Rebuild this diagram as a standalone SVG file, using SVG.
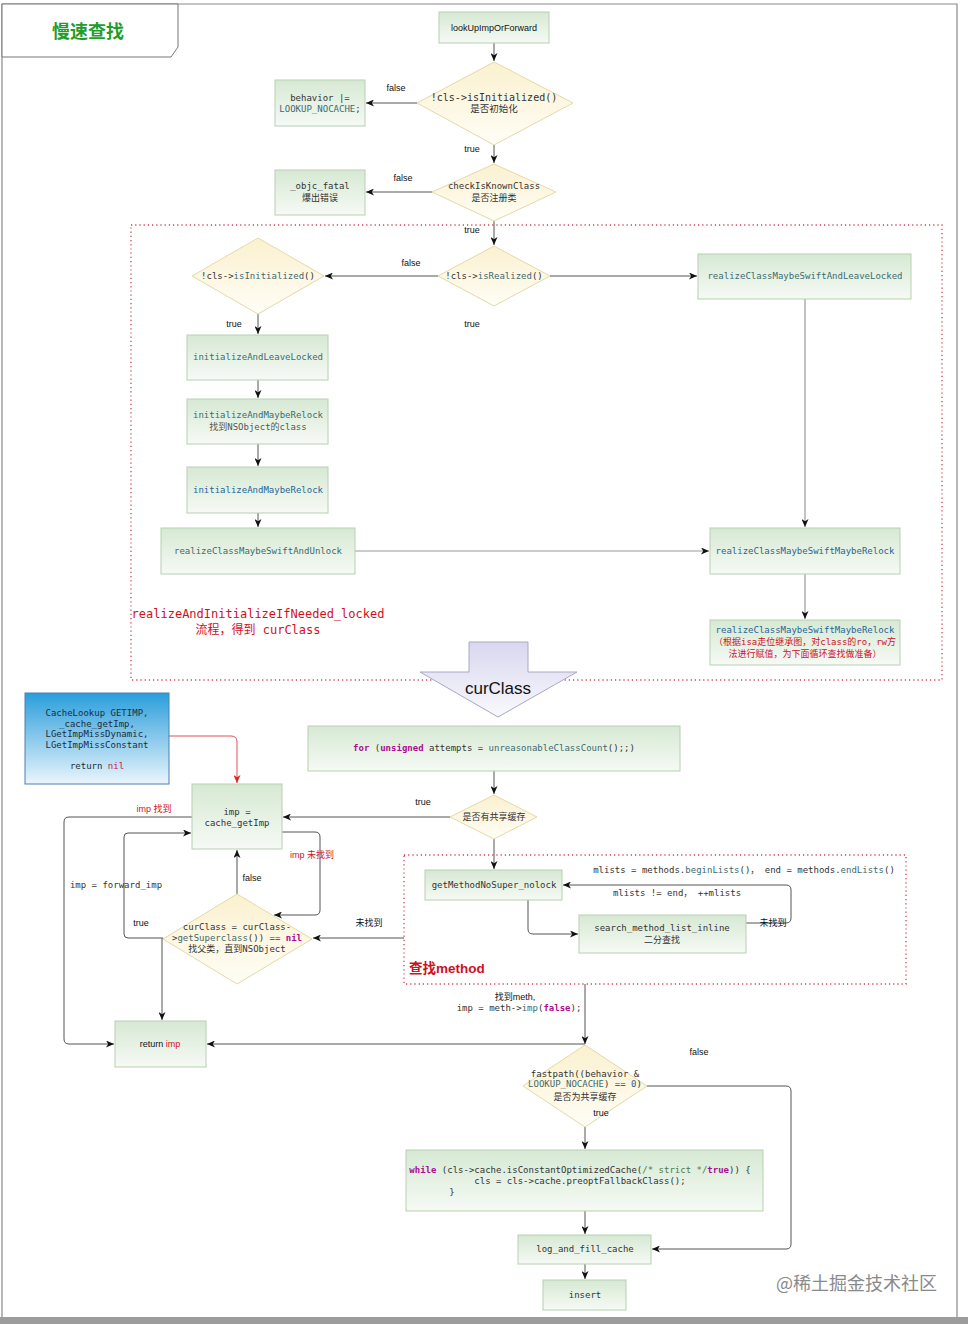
<svg xmlns="http://www.w3.org/2000/svg" width="968" height="1324" viewBox="0 0 968 1324">
<style>
.box{fill:url(#gb);stroke:#b7d0b1;stroke-width:1}
.dia{fill:url(#gd);stroke:#e3d9a8;stroke-width:1}
.m{font-family:"DejaVu Sans Mono","Liberation Mono","Noto Sans CJK SC",monospace;font-size:9px;fill:#333;text-anchor:middle}
.s{font-family:"Liberation Sans","Noto Sans CJK SC",sans-serif;font-size:9px;fill:#111;text-anchor:middle}
.teal{fill:#3c6b70}
.blue{fill:#2a6496}
.kw{fill:#aa0d91;font-weight:bold}
.red{fill:#d0101e}
.ln{fill:none;stroke:#555;stroke-width:1;marker-end:url(#a)}
.lg{fill:none;stroke:#999;stroke-width:1.2;marker-end:url(#a)}
.dash{fill:none;stroke:#d04050;stroke-width:1.3;stroke-dasharray:1.2 3}
</style>
<defs>
<linearGradient id="gb" x1="0" y1="0" x2="0" y2="1"><stop offset="0" stop-color="#d6e9d3"/><stop offset="1" stop-color="#f6faf5"/></linearGradient>
<linearGradient id="gd" x1="0" y1="0" x2="0" y2="1"><stop offset="0" stop-color="#fbf1cf"/><stop offset="1" stop-color="#fffdf6"/></linearGradient>
<linearGradient id="gc" x1="0" y1="0" x2="0" y2="1"><stop offset="0" stop-color="#2a9edb"/><stop offset="1" stop-color="#eaf5fc"/></linearGradient>
<linearGradient id="gv" x1="0" y1="0" x2="0" y2="1"><stop offset="0" stop-color="#d9d7ee"/><stop offset="1" stop-color="#f9f9fd"/></linearGradient>
<marker id="a" viewBox="0 0 8 7" markerWidth="8" markerHeight="7" refX="8" refY="3.5" orient="auto" markerUnits="userSpaceOnUse"><path d="M0,0 L8,3.5 L0,7 L2.2,3.5 z" fill="#111"/></marker>
<marker id="ar" viewBox="0 0 8 7" markerWidth="8" markerHeight="7" refX="8" refY="3.5" orient="auto" markerUnits="userSpaceOnUse"><path d="M0,0 L8,3.5 L0,7 L2.2,3.5 z" fill="#e02020"/></marker>
</defs>
<rect x="0" y="0" width="968" height="1324" fill="#fff"/>
<path d="M2,1317 V4 H957 V1317" fill="none" stroke="#8a8a8a" stroke-width="1.2"/>
<rect x="0" y="1317" width="968" height="7" fill="#9c9c9c"/>
<g id="title">
<polygon points="2,4 178,4 178,47 171,57 2,57" fill="#fff" stroke="#777" stroke-width="1"/>
<text x="88" y="38" font-family="'Noto Sans CJK SC',sans-serif" font-size="18" font-weight="bold" fill="#1f9d2a" text-anchor="middle">慢速查找</text>
</g>
<rect class="dash" x="131" y="225" width="811" height="455"/>
<rect class="dash" x="404" y="855" width="502" height="129"/>
<g id="connectors">
<path class="ln" d="M494,43 V61"/>
<path class="ln" d="M417,103 H366"/>
<path class="ln" d="M494,145 V163"/>
<path class="ln" d="M432,192 H366"/>
<path class="ln" d="M494,221 V245"/>
<path class="ln" d="M438,276 H325"/>
<path class="ln" d="M550,276 H697"/>
<path class="ln" d="M258,314 V334"/>
<path class="ln" d="M258,380 V398"/>
<path class="ln" d="M258,444 V466"/>
<path class="ln" d="M258,513 V527"/>
<path class="lg" d="M355,551 H709"/>
<path class="lg" d="M805,299 V527"/>
<path class="lg" d="M805,574 V619"/>
<path d="M169,736 H231 Q237,736 237,742 V783" fill="none" stroke="#e05050" stroke-width="1" marker-end="url(#ar)"/>
<path class="ln" d="M494,771 V794"/>
<path class="ln" d="M450,817 H283"/>
<path class="ln" d="M494,839 V869"/>
<path class="ln" d="M404,938 H313"/>
<path class="ln" d="M237,894 V850"/>
<path class="ln" d="M282,832 H315 Q320,832 320,837 V910 Q320,915 315,915 H274"/>
<path class="ln" d="M163,938 H128 Q124,938 124,934 V837 Q124,833 128,833 H191"/>
<path class="ln" d="M162,938 V1020"/>
<path class="ln" d="M192,817 H69 Q64,817 64,822 V1039 Q64,1044 69,1044 H114"/>
<path class="ln" d="M585,984 V1044"/>
<path class="ln" d="M585,1044 H207"/>
<path class="ln" d="M647,1086 H786 Q791,1086 791,1091 V1244 Q791,1249 786,1249 H652"/>
<path class="ln" d="M585,1127 V1149"/>
<path class="ln" d="M585,1211 V1234"/>
<path class="ln" d="M585,1264 V1279"/>
<path class="ln" d="M528,900 V929 Q528,934 533,934 H578"/>
<path class="ln" d="M746,923 H786 Q791,923 791,918 V890 Q791,885 786,885 H563"/>
</g>
<g id="labels">
<text class="s" x="396" y="91">false</text>
<text class="s" x="472" y="152">true</text>
<text class="s" x="403" y="181">false</text>
<text class="s" x="472" y="233">true</text>
<text class="s" x="411" y="266">false</text>
<text class="s" x="472" y="327">true</text>
<text class="s" x="234" y="327">true</text>
<text class="s" x="423" y="805">true</text>
<text class="s" x="369" y="926">未找到</text>
<text class="s" x="252" y="881">false</text>
<text class="s red" x="312" y="858">imp 未找到</text>
<text class="s red" x="154" y="812">imp 找到</text>
<text class="m" x="116" y="888">imp = forward_imp</text>
<text class="s" x="141" y="926">true</text>
<text class="s" x="515" y="1000">找到meth,</text>
<text class="m" x="519" y="1011">imp = meth-&gt;<tspan class="teal">imp</tspan>(<tspan class="kw">false</tspan>);</text>
<text class="s" x="699" y="1055">false</text>
<text class="s" x="773" y="926">未找到</text>
<text class="m" x="744" y="873">mlists = methods.<tspan class="teal">beginLists</tspan>()， end = methods.<tspan class="teal">endLists</tspan>()</text>
<text class="m" x="677" y="896">mlists != end， ++mlists</text>
<text class="m red" x="258" y="618" style="font-size:12px">realizeAndInitializeIfNeeded_locked</text>
<text class="m red" x="258" y="634" style="font-size:12px">流程，得到 curClass</text>
<text x="409" y="973" font-family="'Liberation Sans','Noto Sans CJK SC',sans-serif" font-size="13.5" font-weight="bold" fill="#d0101e">查找method</text>
<text x="937" y="1290" font-family="'Noto Sans CJK SC',sans-serif" font-size="18" fill="#8a8a8a" text-anchor="end">@稀土掘金技术社区</text>
</g>
<g id="lookUpImpOrForward"><rect class="box" x="439" y="12" width="110" height="31"/><text class="s" x="494" y="31">lookUpImpOrForward</text></g>
<g id="isInitialized1"><polygon class="dia" points="494,62 573,103 494,145 417,103"/><text class="m" x="494" y="101" style="font-size:10px">!cls-&gt;isInitialized()</text><text class="m" x="494" y="112" style="font-size:9.5px">是否初始化</text></g>
<g id="behavior"><rect class="box" x="275" y="80" width="90" height="46"/><text class="m" x="320" y="101">behavior |=</text><text class="m" x="320" y="112"><tspan class="teal">LOOKUP_NOCACHE</tspan>;</text></g>
<g id="checkIsKnownClass"><polygon class="dia" points="494,164 556,192 494,221 432,192"/><text class="m" x="494" y="189">checkIsKnownClass</text><text class="m" x="494" y="201">是否注册类</text></g>
<g id="objc_fatal"><rect class="box" x="275" y="170" width="90" height="45"/><text class="m" x="320" y="189">_objc_fatal</text><text class="m" x="320" y="201">爆出错误</text></g>
<g id="isRealized"><polygon class="dia" points="494,246 550,276 494,306 438,276"/><text class="m" x="494" y="279">!cls-&gt;<tspan class="teal">isRealized</tspan>()</text></g>
<g id="isInitialized2"><polygon class="dia" points="258,238 324,276 258,314 192,276"/><text class="m" x="258" y="279">!cls-&gt;<tspan class="teal">isInitialized</tspan>()</text></g>
<g id="initializeAndLeaveLocked"><rect class="box" x="187" y="335" width="141" height="45"/><text class="m teal" x="258" y="360">initializeAndLeaveLocked</text></g>
<g id="initializeAndMaybeRelock1"><rect class="box" x="187" y="399" width="141" height="45"/><text class="m teal" x="258" y="418">initializeAndMaybeRelock</text><text class="m" x="258" y="430" style="fill:#555">找到NSObject的class</text></g>
<g id="initializeAndMaybeRelock2"><rect class="box" x="187" y="467" width="141" height="46"/><text class="m blue" x="258" y="493">initializeAndMaybeRelock</text></g>
<g id="realizeClassMaybeSwiftAndUnlock"><rect class="box" x="161" y="528" width="194" height="46"/><text class="m teal" x="258" y="554">realizeClassMaybeSwiftAndUnlock</text></g>
<g id="realizeClassMaybeSwiftAndLeaveLocked"><rect class="box" x="698" y="254" width="213" height="45"/><text class="m teal" x="805" y="279">realizeClassMaybeSwiftAndLeaveLocked</text></g>
<g id="realizeClassMaybeSwiftMaybeRelock1"><rect class="box" x="710" y="528" width="190" height="46"/><text class="m blue" x="805" y="554">realizeClassMaybeSwiftMaybeRelock</text></g>
<g id="realizeClassMaybeSwiftMaybeRelock2"><rect class="box" x="710" y="620" width="190" height="45"/><text class="m blue" x="805" y="633">realizeClassMaybeSwiftMaybeRelock</text><text class="m red" x="805" y="645">（根据isa走位继承图，对class的ro，rw方</text><text class="m red" x="805" y="657">法进行赋值，为下面循环查找做准备）</text></g>
<g id="curClassArrow"><polygon points="469,642 528,642 528,672 577,672 498,717 420,672 469,672" fill="url(#gv)" stroke="#a9a8c4" stroke-width="1"/><text x="498" y="694" font-family="'Liberation Sans',sans-serif" font-size="17" fill="#111" text-anchor="middle">curClass</text></g>
<g id="cacheLookup"><rect x="25" y="693" width="144" height="91" fill="url(#gc)" stroke="#4a80b0" stroke-width="1"/><text class="m" x="97" y="716" style="fill:#1c2c3c">CacheLookup GETIMP,</text><text class="m" x="97" y="727" style="fill:#1c2c3c">_cache_getImp,</text><text class="m" x="97" y="737" style="fill:#1c2c3c">LGetImpMissDynamic,</text><text class="m" x="97" y="748" style="fill:#1c2c3c">LGetImpMissConstant</text><text class="m" x="97" y="769" style="fill:#1c2c3c">return <tspan style="fill:#c41a4a">nil</tspan></text></g>
<g id="cache_getImp"><rect class="box" x="192" y="784" width="90" height="65"/><text class="m" x="237" y="815">imp =</text><text class="m" x="237" y="826">cache_getImp</text></g>
<g id="forLoop"><rect class="box" x="308" y="726" width="372" height="45"/><text class="m" x="494" y="751"><tspan class="kw">for</tspan> (<tspan class="kw">unsigned</tspan> attempts = <tspan class="teal">unreasonableClassCount</tspan>();;)</text></g>
<g id="sharedCache"><polygon class="dia" points="494,795 537,817 494,839 450,817"/><text class="m" x="494" y="820">是否有共享缓存</text></g>
<g id="getMethodNoSuper_nolock"><rect class="box" x="425" y="870" width="137" height="30"/><text class="m" x="494" y="888">getMethodNoSuper_nolock</text></g>
<g id="search_method_list_inline"><rect class="box" x="579" y="915" width="167" height="38"/><text class="m" x="662" y="931">search_method_list_inline</text><text class="m" x="662" y="943">二分查找</text></g>
<g id="superclass"><polygon class="dia" points="237,894 312,939 237,984 163,939"/><text class="m" x="237" y="930">curClass = curClass-</text><text class="m" x="237" y="941">&gt;<tspan class="teal">getSuperclass</tspan>()) == <tspan class="kw">nil</tspan></text><text class="m" x="237" y="952">找父类，直到NSObject</text></g>
<g id="returnImp"><rect class="box" x="115" y="1021" width="91" height="46"/><text class="s" x="160" y="1047">return <tspan class="red">imp</tspan></text></g>
<g id="fastpath"><polygon class="dia" points="585,1045 647,1086 585,1127 523,1086"/><text class="m" x="585" y="1077">fastpath((behavior &amp;</text><text class="m" x="585" y="1087"><tspan class="teal">LOOKUP_NOCACHE</tspan>) == <tspan class="blue">0</tspan>)</text><text class="m" x="585" y="1100">是否为共享缓存</text><text class="s" x="601" y="1116">true</text></g>
<g id="whileLoop"><rect class="box" x="406" y="1150" width="357" height="61"/><text class="m" x="580" y="1173"><tspan class="kw">while</tspan> (cls-&gt;cache.isConstantOptimizedCache(<tspan style="fill:#4a7a4a">/* strict */</tspan><tspan class="kw">true</tspan>)) {</text><text class="m" x="580" y="1184">cls = cls-&gt;cache.preoptFallbackClass();</text><text class="m" x="452" y="1195">}</text></g>
<g id="log_and_fill_cache"><rect class="box" x="518" y="1235" width="133" height="29"/><text class="m" x="585" y="1252">log_and_fill_cache</text></g>
<g id="insert"><rect class="box" x="543" y="1280" width="83" height="30"/><text class="m" x="585" y="1298">insert</text></g>
</svg>
